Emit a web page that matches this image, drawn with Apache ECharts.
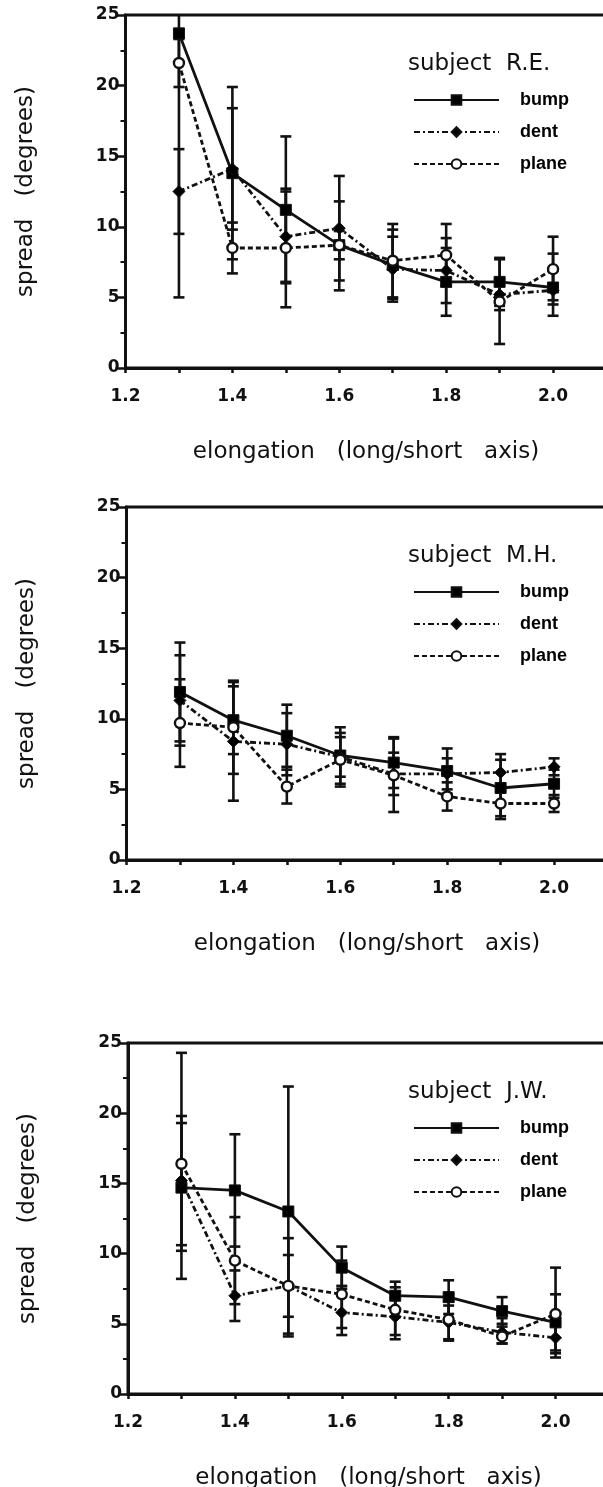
<!DOCTYPE html>
<html>
<head>
<meta charset="utf-8">
<script src="https://cdn.jsdelivr.net/npm/echarts@6/dist/echarts.min.js"></script>
<style>
  html, body { margin: 0; padding: 0; background: #fff; }
  #main { width: 603px; height: 1487px; }
</style>
</head>
<body>
<div id="main"></div>
<script>
// elongation (long/short axis)
const elongation = [1.3, 1.4, 1.5, 1.6, 1.7, 1.8, 1.9, 2.0];

// subject R.E.
const reBump    = [23.7, 13.8, 11.2, 8.7, 7.3, 6.1, 6.1, 5.7];
const reBumpLo  = [5.0, 7.7, 6.0, 5.5, 4.9, 3.7, 4.4, 4.5];
const reBumpHi  = [42.4, 19.9, 16.4, 11.8, 9.8, 8.5, 7.8, 6.9];
const reDent    = [12.5, 14.1, 9.3, 9.9, 7.0, 6.9, 5.2, 5.5];
const reDentLo  = [9.5, 9.8, 6.1, 6.2, 4.7, 4.6, 4.1, 3.7];
const reDentHi  = [15.5, 18.4, 12.5, 13.6, 9.3, 9.2, 6.3, 8.1];
const rePlane   = [21.6, 8.5, 8.5, 8.7, 7.6, 8.0, 4.7, 7.0];
const rePlaneLo = [19.9, 6.7, 4.3, 7.7, 5.0, 5.8, 1.7, 4.8];
const rePlaneHi = [23.3, 10.3, 12.7, 9.7, 10.2, 10.2, 7.7, 9.3];

// subject M.H.
const mhBump    = [11.9, 9.9, 8.8, 7.4, 6.9, 6.3, 5.1, 5.4];
const mhBumpLo  = [8.4, 7.5, 6.6, 5.4, 5.1, 4.7, 3.1, 4.4];
const mhBumpHi  = [15.4, 12.3, 11.0, 9.4, 8.7, 7.9, 7.1, 6.4];
const mhDent    = [11.3, 8.4, 8.2, 7.3, 6.1, 6.1, 6.2, 6.6];
const mhDentLo  = [8.1, 4.2, 6.0, 5.9, 4.6, 5.0, 4.9, 6.0];
const mhDentHi  = [14.5, 12.6, 10.4, 8.7, 7.6, 7.2, 7.5, 7.2];
const mhPlane   = [9.7, 9.4, 5.2, 7.1, 6.0, 4.5, 4.0, 4.0];
const mhPlaneLo = [6.6, 6.1, 4.0, 5.2, 3.4, 3.5, 2.9, 3.4];
const mhPlaneHi = [12.8, 12.7, 6.4, 9.0, 8.6, 5.5, 5.1, 4.6];

// subject J.W.
const jwBump    = [14.7, 14.5, 13.0, 9.0, 7.0, 6.9, 5.9, 5.1];
const jwBumpLo  = [10.2, 10.5, 4.1, 7.5, 6.0, 5.7, 4.8, 3.1];
const jwBumpHi  = [19.3, 18.5, 21.9, 10.5, 8.0, 8.1, 6.9, 7.1];
const jwDent    = [15.2, 7.0, 7.7, 5.8, 5.5, 5.1, 4.4, 4.0];
const jwDentLo  = [10.6, 5.2, 5.5, 4.2, 3.9, 3.9, 3.6, 2.9];
const jwDentHi  = [19.8, 8.8, 9.9, 7.7, 7.3, 6.3, 5.0, 5.1];
const jwPlane   = [16.4, 9.5, 7.7, 7.1, 6.0, 5.3, 4.1, 5.7];
const jwPlaneLo = [8.2, 6.4, 4.3, 4.7, 4.2, 3.8, 3.6, 2.6];
const jwPlaneHi = [24.3, 12.6, 11.1, 9.5, 7.6, 6.6, 5.4, 9.0];

const subjects = ['subject  R.E.', 'subject  M.H.', 'subject  J.W.'];
const yTicks = [0, 5, 10, 15, 20, 25];

const panels = [
  { bump: [reBump, reBumpLo, reBumpHi], dent: [reDent, reDentLo, reDentHi], plane: [rePlane, rePlaneLo, rePlaneHi] },
  { bump: [mhBump, mhBumpLo, mhBumpHi], dent: [mhDent, mhDentLo, mhDentHi], plane: [mhPlane, mhPlaneLo, mhPlaneHi] },
  { bump: [jwBump, jwBumpLo, jwBumpHi], dent: [jwDent, jwDentLo, jwDentHi], plane: [jwPlane, jwPlaneLo, jwPlaneHi] }
];

const gridTops = [15, 507, 1043];
const gridHeights = [353, 353, 351];
const gridLefts = [125.5, 126.5, 128];

const styles = {
  bump:  { symbol: 'rect', symbolSize: 11, line: 'solid', fill: '#000' },
  dent:  { symbol: 'diamond', symbolSize: 12, line: [6, 3, 2, 3], fill: '#000' },
  plane: { symbol: 'circle', symbolSize: 10, line: [5, 3], fill: '#fff' }
};

const ink = '#111';

function errBars(params, api) {
  const x = api.value(0);
  const lo = api.coord([x, api.value(1)]);
  const hi = api.coord([x, api.value(2)]);
  const w = 5.5;
  const st = { stroke: ink, lineWidth: 2.6 };
  return {
    type: 'group',
    children: [
      { type: 'line', shape: { x1: lo[0], y1: lo[1], x2: hi[0], y2: hi[1] }, style: st },
      { type: 'line', shape: { x1: lo[0] - w, y1: lo[1], x2: lo[0] + w, y2: lo[1] }, style: st },
      { type: 'line', shape: { x1: hi[0] - w, y1: hi[1], x2: hi[0] + w, y2: hi[1] }, style: st }
    ]
  };
}

const grid = [], xAxis = [], yAxis = [], series = [], title = [], legend = [];

panels.forEach((p, k) => {
  grid.push({
    left: gridLefts[k], top: gridTops[k], width: 481, height: gridHeights[k],
    outerBoundsMode: 'none', containLabel: false,
    show: true, borderColor: ink, borderWidth: 3, backgroundColor: 'transparent'
  });
  xAxis.push({
    gridIndex: k, type: 'value', min: 1.2, max: 2.1, interval: 0.1,
    name: 'elongation   (long/short   axis)', nameLocation: 'middle', nameGap: 73,
    nameTextStyle: { fontFamily: 'DejaVu Sans', fontSize: 23, color: ink },
    axisLine: { lineStyle: { color: ink, width: 3 } },
    axisTick: { length: 5, lineStyle: { color: ink, width: 2.5 } },
    axisLabel: {
      margin: 20, fontFamily: 'DejaVu Sans', fontWeight: 'bold', fontSize: 17, color: ink,
      formatter: v => (Math.round(v * 10) % 2 === 0 && v < 2.05) ? v.toFixed(1) : ''
    },
    splitLine: { show: false }
  });
  yAxis.push({
    gridIndex: k, type: 'value', min: yTicks[0], max: yTicks[yTicks.length - 1], interval: 5,
    name: 'spread   (degrees)', nameLocation: 'middle', nameGap: 88,
    nameTextStyle: { fontFamily: 'DejaVu Sans', fontSize: 23, color: ink },
    axisLine: { lineStyle: { color: ink, width: 3 } },
    axisTick: { length: 10, lineStyle: { color: ink, width: 2.5 } },
    minorTick: { show: true, splitNumber: 2, length: 5, lineStyle: { color: ink, width: 2 } },
    axisLabel: { margin: 6, fontFamily: 'DejaVu Sans', fontWeight: 'bold', fontSize: 17, color: ink },
    splitLine: { show: false }
  });
  title.push({
    text: subjects[k], left: 403, top: gridTops[k] + 33,
    textStyle: { fontFamily: 'DejaVu Sans', fontSize: 23, fontWeight: 'normal', color: ink }
  });
  legend.push({
    orient: 'vertical', left: 408, top: gridTops[k] + 71,
    itemWidth: 85, itemHeight: 12, itemGap: 14,
    data: ['bump', 'dent', 'plane'],
    textStyle: { fontFamily: 'Liberation Sans', fontWeight: 'bold', fontSize: 18, color: '#000', padding: [0, 0, 0, 16] }
  });
  ['bump', 'dent', 'plane'].forEach(name => {
    const [vals, lo, hi] = p[name];
    const s = styles[name];
    series.push({
      type: 'custom', xAxisIndex: k, yAxisIndex: k, clip: true, silent: true,
      renderItem: errBars, encode: { x: 0, y: [1, 2] },
      data: elongation.map((x, i) => [x, lo[i], hi[i]]), z: 2
    });
    series.push({
      name: name, type: 'line', xAxisIndex: k, yAxisIndex: k,
      data: elongation.map((x, i) => [x, vals[i]]),
      symbol: s.symbol, symbolSize: s.symbolSize, showAllSymbol: true,
      lineStyle: { color: ink, width: 2.8, type: s.line },
      itemStyle: { color: s.fill, borderColor: ink, borderWidth: name === 'plane' ? 2.4 : 1 },
      z: 3, animation: false
    });
  });
});

const chart = echarts.init(document.getElementById('main'), null, { renderer: 'canvas' });
chart.setOption({
  animation: false,
  backgroundColor: '#fff',
  title, legend, grid, xAxis, yAxis, series
});
</script>
</body>
</html>
